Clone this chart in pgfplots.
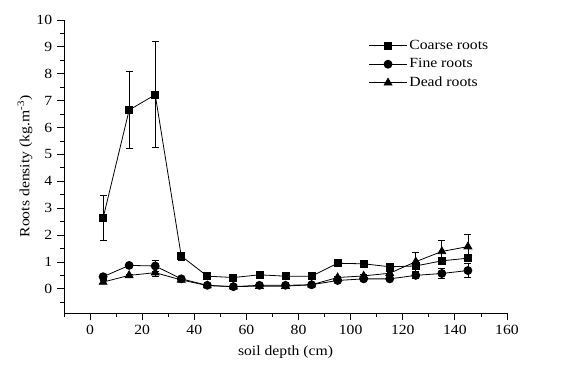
\documentclass[border=0pt]{standalone}
\usepackage{pgfplots}
\pgfplotsset{compat=1.18}
\usepackage{fontspec}
\setmainfont{Liberation Serif}[FakeStretch=1.12]
\begin{document}
\fontsize{14bp}{17bp}\selectfont
\begin{tikzpicture}
\useasboundingbox (-64bp,-57bp) rectangle (499bp,313bp);
\begin{axis}[
  at={(0,0)}, anchor=south west,
  scale only axis, width=443bp, height=293bp,
  xmin=-10, xmax=160, ymin=-0.9, ymax=10,
  axis x line*=bottom, axis y line*=left,
  axis line style={line width=0.9pt, -},
  xtick={0,20,...,160}, minor xtick={-10,10,...,150},
  ytick={0,1,...,10}, minor ytick={-0.5,0.5,...,9.5},
  tick align=outside, major tick length=7bp, minor tick length=4bp,
  tick style={line width=0.8pt, black},
  /pgf/number format/assume math mode=true,
  ticklabel style={font=\fontsize{14bp}{17bp}\selectfont},
  label style={font=\fontsize{14bp}{17bp}\selectfont},
  xlabel={soil depth (cm)},
  ylabel={Roots density (kg.m\textsuperscript{-3})},
  xlabel style={at={(axis description cs:0.5,-0.133)}, anchor=center},
  ylabel style={at={(axis description cs:-0.088,0.5)}, anchor=center},
  legend style={at={(axis description cs:0.685,0.942)}, anchor=north west, draw=none, fill=none,
    font=\fontsize{14bp}{17bp}\selectfont, row sep=3bp, inner sep=1pt},
  legend cell align=left,
  legend image code/.code={\draw[black, line width=0.8pt] (0bp,0bp) -- (38bp,0bp);
     \draw[#1, mark repeat=2, mark phase=2] plot coordinates {(0bp,0bp) (19bp,0bp) (38bp,0bp)};},
  error bars/error bar style={line width=0.8pt, black},
  error bars/error mark options={rotate=90, mark size=3.5bp, line width=0.8pt, black},
]
\addplot[black, line width=0.8pt, mark=square*, mark size=3.5bp, mark options={solid, fill=black},
  error bars/.cd, y dir=both, y explicit] coordinates {
(5,2.63) +- (0,0.83)
(15,6.65) +- (0,1.42)
(25,7.22) +- (0,1.97)
(35,1.22) +- (0,0.15)
(45,0.47) +- (0,0.05)
(55,0.42) +- (0,0.05)
(65,0.52) +- (0,0.05)
(75,0.47) +- (0,0.04)
(85,0.47) +- (0,0.04)
(95,0.95) +- (0,0.1)
(105,0.93) +- (0,0.06)
(115,0.82) +- (0,0.05)
(125,0.85) +- (0,0.1)
(135,1.04) +- (0,0.1)
(145,1.14) +- (0,0.1)
};
\addlegendentry{Coarse roots}
\addplot[black, line width=0.8pt, mark=*, mark size=4bp, mark options={solid, fill=black},
  error bars/.cd, y dir=both, y explicit] coordinates {
(5,0.45) +- (0,0.1)
(15,0.87) +- (0,0.05)
(25,0.85) +- (0,0.2)
(35,0.37) +- (0,0.05)
(45,0.13) +- (0,0.03)
(55,0.08) +- (0,0.03)
(65,0.13) +- (0,0.03)
(75,0.13) +- (0,0.03)
(85,0.15) +- (0,0.03)
(95,0.31) +- (0,0.05)
(105,0.37) +- (0,0.05)
(115,0.37) +- (0,0.05)
(125,0.5) +- (0,0.1)
(135,0.57) +- (0,0.2)
(145,0.68) +- (0,0.25)
};
\addlegendentry{Fine roots}
\addplot[black, line width=0.8pt, mark=triangle*, mark size=4.5bp, mark options={solid, fill=black},
  error bars/.cd, y dir=both, y explicit] coordinates {
(5,0.25) +- (0,0.05)
(15,0.5) +- (0,0.05)
(25,0.6) +- (0,0.15)
(35,0.33) +- (0,0.05)
(45,0.12) +- (0,0.03)
(55,0.08) +- (0,0.03)
(65,0.1) +- (0,0.03)
(75,0.1) +- (0,0.03)
(85,0.15) +- (0,0.03)
(95,0.42) +- (0,0.05)
(105,0.48) +- (0,0.05)
(115,0.58) +- (0,0.05)
(125,1.01) +- (0,0.35)
(135,1.39) +- (0,0.4)
(145,1.57) +- (0,0.47)
};
\addlegendentry{Dead roots}
\end{axis}
\end{tikzpicture}
\end{document}
